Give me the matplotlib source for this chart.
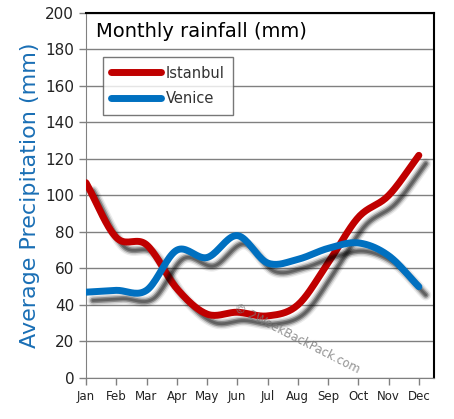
import numpy as np
import matplotlib
matplotlib.use("Agg")
import matplotlib.pyplot as plt
import matplotlib.patheffects as pe

# values (mm)
months = ['Jan', 'Feb', 'Mar', 'Apr', 'May', 'Jun', 'Jul', 'Aug', 'Sep', 'Oct', 'Nov', 'Dec']
istanbul = [107, 77, 73, 49, 35, 36, 34, 40, 63, 88, 100, 122]
venice = [47, 48, 48, 70, 66, 78, 63, 65, 71, 74, 67, 50]
yticks = list(range(0, 201, 20))


def smooth(y, n=20):
    # catmull-rom through the data points, only for drawing the curve
    y = np.asarray(y, float)
    p = np.concatenate([[2 * y[0] - y[1]], y, [2 * y[-1] - y[-2]]])
    xs, ys = [], []
    for i in range(len(y) - 1):
        t = np.linspace(0, 1, n, endpoint=False)
        p0, p1, p2, p3 = p[i], p[i + 1], p[i + 2], p[i + 3]
        seg = 0.5 * ((2 * p1) + (-p0 + p2) * t + (2 * p0 - 5 * p1 + 4 * p2 - p3) * t ** 2
                     + (-p0 + 3 * p1 - 3 * p2 + p3) * t ** 3)
        xs.append(i + t)
        ys.append(seg)
    xs.append([len(y) - 1])
    ys.append([y[-1]])
    return np.concatenate(xs), np.concatenate(ys)


plt.rcParams['font.family'] = ['DejaVu Sans']
fig = plt.figure(figsize=(4.54, 4.19), dpi=100)
ax = fig.add_axes([0.1894, 0.098, 0.7665, 0.871])

# blurred drop shadow built from a few stacked offset strokes
shadow = [pe.SimpleLineShadow(offset=(5, -6), shadow_color='k', alpha=0.08, linewidth=8),
          pe.SimpleLineShadow(offset=(5, -6), shadow_color='k', alpha=0.15, linewidth=6),
          pe.SimpleLineShadow(offset=(5, -6), shadow_color='k', alpha=0.3, linewidth=4),
          pe.SimpleLineShadow(offset=(5, -6), shadow_color='k', alpha=0.3, linewidth=2),
          pe.Normal()]

x = np.arange(len(months))
for vals, col, lab in [(istanbul, '#c00000', 'Istanbul'), (venice, '#0070c0', 'Venice')]:
    sx, sy = smooth(vals)
    ax.plot(sx, sy, color=col, lw=5, solid_capstyle='round', label=lab,
            path_effects=shadow, zorder=3)

ax.set_xlim(0, 11.5)
ax.set_ylim(0, 200)
ax.set_xticks(x)
ax.set_xticklabels(months, fontsize=8.5, color='#222222')
ax.set_yticks(yticks)
ax.set_yticklabels([str(v) for v in yticks], fontsize=11, color='#111111')
ax.tick_params(axis='both', colors='#808080', labelcolor='#222222', length=5, width=1)
ax.grid(axis='y', color='#808080', lw=1)
ax.set_axisbelow(True)

for s in ['left', 'bottom']:
    ax.spines[s].set_color('#808080')
for s in ['right', 'top']:
    ax.spines[s].set_color('black')
    ax.spines[s].set_linewidth(1.5)

ax.set_ylabel('Average Precipitation (mm)', fontsize=16, color='#1a6fb5', labelpad=4)
ax.text(0.03, 0.975, 'Monthly rainfall (mm)', transform=ax.transAxes, fontsize=14,
        va='top', ha='left', color='black')

leg = ax.legend(loc='upper left', bbox_to_anchor=(0.048, 0.88), fontsize=10.5,
                frameon=True, fancybox=False, edgecolor='#555555', handlelength=3.4,
                borderpad=0.6, labelspacing=0.75, handletextpad=0.3, borderaxespad=0)
leg.get_frame().set_linewidth(1)
for h in leg.legend_handles:
    h.set_path_effects([pe.Normal()])
for t in leg.get_texts():
    t.set_color('#333333')

ax.text(0.428, 0.195, '\u00a9 2WeekBackPack.com', transform=ax.transAxes, rotation=-27,
        rotation_mode='anchor', fontsize=8.5, color='#777777', ha='left', va='center',
        alpha=0.8, zorder=4)

fig.savefig('out.png', dpi=100)
